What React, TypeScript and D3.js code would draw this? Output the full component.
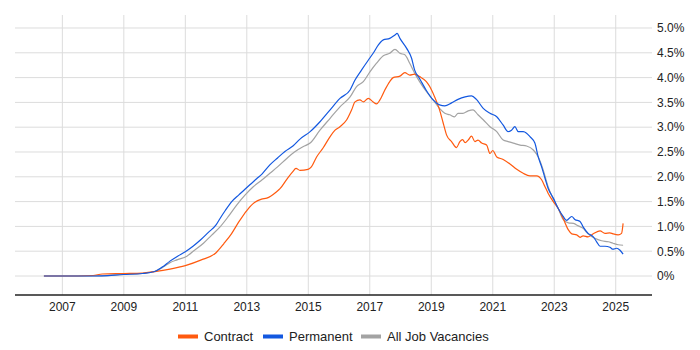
import React from "react";
import * as d3 from "d3";

const contractData: [number, number][] = [
  [2006.4, 0.0], [2007.5, 0.0], [2008.0, 0.01], [2008.3, 0.04], [2009.0, 0.05], [2009.6, 0.06],
  [2010.0, 0.09], [2010.5, 0.14], [2011.0, 0.21], [2011.5, 0.32], [2012.0, 0.47], [2012.25, 0.65],
  [2012.5, 0.85], [2012.75, 1.1], [2013.0, 1.32], [2013.25, 1.48], [2013.48, 1.55], [2013.65, 1.57],
  [2013.97, 1.7], [2014.08, 1.76], [2014.3, 1.95], [2014.49, 2.1], [2014.6, 2.17], [2014.73, 2.13],
  [2014.99, 2.15], [2015.1, 2.2], [2015.27, 2.4], [2015.48, 2.58], [2015.71, 2.81], [2015.87, 2.94],
  [2016.03, 3.01], [2016.25, 3.15], [2016.41, 3.35], [2016.52, 3.51], [2016.68, 3.55], [2016.79, 3.51],
  [2016.95, 3.58], [2017.11, 3.51], [2017.22, 3.47], [2017.33, 3.55], [2017.49, 3.75], [2017.65, 3.92],
  [2017.76, 4.0], [2017.98, 4.03], [2018.14, 4.1], [2018.3, 4.05], [2018.46, 4.07], [2018.62, 4.02],
  [2018.84, 3.92], [2018.95, 3.82], [2019.11, 3.61], [2019.27, 3.35], [2019.39, 3.08], [2019.5, 2.84],
  [2019.66, 2.71], [2019.82, 2.59], [2019.93, 2.71], [2020.02, 2.75], [2020.1, 2.69], [2020.2, 2.74],
  [2020.31, 2.82], [2020.42, 2.71], [2020.52, 2.74], [2020.64, 2.68], [2020.8, 2.64], [2020.91, 2.47],
  [2021.0, 2.53], [2021.13, 2.4], [2021.34, 2.35], [2021.56, 2.26], [2021.78, 2.15], [2021.99, 2.07],
  [2022.21, 2.02], [2022.43, 2.02], [2022.59, 1.94], [2022.7, 1.8], [2022.8, 1.67], [2022.97, 1.5],
  [2023.13, 1.36], [2023.29, 1.16], [2023.46, 0.93], [2023.57, 0.85], [2023.73, 0.83], [2023.84, 0.78],
  [2023.94, 0.81], [2024.1, 0.79], [2024.27, 0.85], [2024.49, 0.91], [2024.65, 0.86], [2024.81, 0.87],
  [2024.91, 0.85], [2025.08, 0.83], [2025.19, 0.86], [2025.24, 1.06],
];

const permanentData: [number, number][] = [
  [2006.4, 0.0], [2008.0, 0.0], [2009.0, 0.03], [2009.6, 0.05], [2010.0, 0.09], [2010.25, 0.18],
  [2010.5, 0.3], [2010.75, 0.4], [2011.0, 0.49], [2011.25, 0.6], [2011.5, 0.73], [2011.75, 0.88],
  [2012.0, 1.03], [2012.13, 1.16], [2012.3, 1.32], [2012.51, 1.5], [2012.75, 1.64], [2012.94, 1.75],
  [2013.1, 1.84], [2013.32, 1.96], [2013.5, 2.06], [2013.75, 2.24], [2014.0, 2.38], [2014.24, 2.51],
  [2014.5, 2.62], [2014.73, 2.76], [2015.06, 2.91], [2015.38, 3.11], [2015.71, 3.35], [2016.03, 3.58],
  [2016.36, 3.75], [2016.52, 3.95], [2016.73, 4.15], [2016.95, 4.35], [2017.11, 4.49], [2017.28, 4.66],
  [2017.44, 4.76], [2017.65, 4.79], [2017.82, 4.86], [2017.89, 4.89], [2017.98, 4.79], [2018.2, 4.59],
  [2018.36, 4.39], [2018.46, 4.15], [2018.62, 3.98], [2018.84, 3.74], [2019.06, 3.55], [2019.27, 3.45],
  [2019.44, 3.43], [2019.66, 3.49], [2019.87, 3.56], [2020.1, 3.61], [2020.31, 3.63], [2020.47, 3.56],
  [2020.69, 3.38], [2020.91, 3.28], [2021.13, 3.21], [2021.34, 3.04], [2021.5, 2.91], [2021.61, 2.94],
  [2021.72, 3.01], [2021.83, 2.91], [2021.99, 2.91], [2022.1, 2.88], [2022.21, 2.81], [2022.37, 2.68],
  [2022.48, 2.4], [2022.59, 2.2], [2022.7, 1.97], [2022.8, 1.77], [2022.97, 1.57], [2023.13, 1.36],
  [2023.29, 1.2], [2023.4, 1.12], [2023.57, 1.2], [2023.67, 1.14], [2023.84, 1.1], [2023.94, 0.99],
  [2024.1, 0.86], [2024.27, 0.79], [2024.38, 0.69], [2024.49, 0.6], [2024.65, 0.6], [2024.81, 0.58],
  [2024.91, 0.54], [2025.03, 0.56], [2025.14, 0.52], [2025.24, 0.44],
];

const allData: [number, number][] = [
  [2006.4, 0.0], [2008.0, 0.0], [2009.0, 0.03], [2009.6, 0.05], [2010.0, 0.09], [2010.28, 0.18],
  [2010.5, 0.27], [2010.75, 0.33], [2011.05, 0.4], [2011.3, 0.52], [2011.59, 0.66], [2011.85, 0.82],
  [2012.13, 0.99], [2012.4, 1.2], [2012.67, 1.43], [2012.94, 1.63], [2013.21, 1.8], [2013.5, 1.94],
  [2013.75, 2.07], [2014.0, 2.2], [2014.3, 2.37], [2014.55, 2.5], [2014.84, 2.61], [2015.06, 2.68],
  [2015.38, 2.94], [2015.71, 3.18], [2016.03, 3.41], [2016.36, 3.61], [2016.57, 3.82], [2016.79, 3.92],
  [2017.01, 4.12], [2017.22, 4.29], [2017.44, 4.44], [2017.65, 4.49], [2017.82, 4.57], [2017.98, 4.49],
  [2018.14, 4.46], [2018.3, 4.29], [2018.46, 4.09], [2018.62, 3.92], [2018.84, 3.72], [2019.06, 3.55],
  [2019.27, 3.38], [2019.44, 3.28], [2019.6, 3.25], [2019.76, 3.21], [2019.87, 3.28], [2020.03, 3.28],
  [2020.2, 3.33], [2020.36, 3.35], [2020.52, 3.25], [2020.69, 3.15], [2020.91, 3.01], [2021.13, 2.91],
  [2021.34, 2.74], [2021.5, 2.71], [2021.67, 2.68], [2021.89, 2.64], [2022.1, 2.62], [2022.32, 2.54],
  [2022.48, 2.4], [2022.64, 2.14], [2022.8, 1.8], [2022.97, 1.55], [2023.13, 1.36], [2023.29, 1.14],
  [2023.46, 1.07], [2023.63, 1.06], [2023.78, 1.01], [2023.94, 0.96], [2024.1, 0.85], [2024.32, 0.76],
  [2024.54, 0.71], [2024.76, 0.69], [2024.91, 0.66], [2025.08, 0.63], [2025.24, 0.62],
];

const xTicks = [2007, 2009, 2011, 2013, 2015, 2017, 2019, 2021, 2023, 2025];
const yTicks = [0, 0.5, 1, 1.5, 2, 2.5, 3, 3.5, 4, 4.5, 5];

const seriesNames = ["Contract", "Permanent", "All Job Vacancies"];
const seriesColors = ["#ff5a0f", "#1358e0", "#a3a3a3"];

const W = 700;
const H = 350;
const left = 15;
const right = 652;
const top = 15;
const bottom = 295;

export default function App() {
  const x = d3.scaleLinear().domain([2005.46, 2026.18]).range([left, right]);
  const y = d3.scaleLinear().domain([-0.383, 5.262]).range([bottom, top]);
  const line = d3
    .line<[number, number]>()
    .x((d) => x(d[0]))
    .y((d) => y(d[1]))
    .curve(d3.curveMonotoneX);

  const seriesData = [contractData, permanentData, allData];
  const drawOrder = [2, 0, 1];
  const font = "'Liberation Sans', Arial, sans-serif";

  const legendX = [178, 263, 361];

  return (
    <svg
      width={W}
      height={H}
      style={{ position: "absolute", left: 0, top: 0, background: "#fff" }}
      fontFamily={font}
    >
      {yTicks.map((t) => (
        <line key={"gy" + t} x1={left} x2={right} y1={y(t)} y2={y(t)} stroke="#dcdcdc" strokeWidth={1} />
      ))}
      {xTicks.map((t) => (
        <line key={"gx" + t} x1={x(t)} x2={x(t)} y1={top} y2={bottom} stroke="#dcdcdc" strokeWidth={1} />
      ))}
      {drawOrder.map((i) => (
        <path
          key={"s" + i}
          d={line(seriesData[i]) || ""}
          fill="none"
          stroke={seriesColors[i]}
          strokeWidth={1.2}
        />
      ))}
      <line x1={left} x2={right} y1={bottom} y2={bottom} stroke="#222" strokeWidth={1.3} />
      {xTicks.map((t) => (
        <text key={"xt" + t} x={x(t)} y={311} textAnchor="middle" fontSize={12} fill="#222">
          {t}
        </text>
      ))}
      {yTicks.map((t) => (
        <text key={"yt" + t} x={657} y={y(t) + 4.3} fontSize={12} fill="#222">
          {t === 0 ? "0%" : d3.format(".1f")(t) + "%"}
        </text>
      ))}
      {seriesNames.map((n, i) => (
        <g key={"lg" + i}>
          <rect x={legendX[i]} y={334.5} width={20} height={4} fill={seriesColors[i]} />
          <text x={legendX[i] + 26} y={341} fontSize={13} fill="#222">
            {n}
          </text>
        </g>
      ))}
    </svg>
  );
}
